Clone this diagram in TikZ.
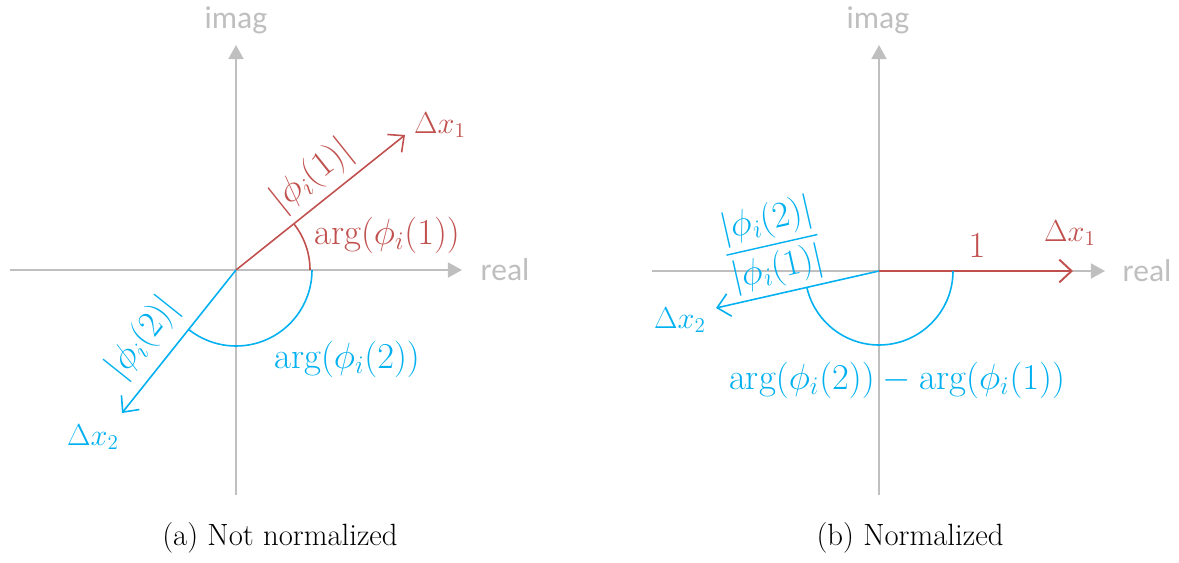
\documentclass[tikz,border=0pt]{standalone}
\usepackage{amsmath,amssymb}
\usepackage{fontspec}
\newfontfamily\axfont{Carlito}
\usepackage{tikz}
\usetikzlibrary{positioning,arrows.meta,calc}
\definecolor{redv}{RGB}{192,80,77}
\definecolor{bluev}{RGB}{0,176,240}
\definecolor{axgray}{RGB}{191,191,191}

\begin{document}
\begin{tikzpicture}[x=0.02cm, y=0.02cm,
        ax/.style={draw=axgray, line width=1.1pt, -{Triangle[length=8pt, width=8.5pt]}},
        axl/.style={font=\axfont\fontsize{18}{20}\selectfont, text=axgray, inner sep=1pt},
        vr/.style={draw=redv, line width=0.9pt, -{Straight Barb[length=7pt, width=13pt]}},
        vb/.style={draw=bluev, line width=0.9pt, -{Straight Barb[length=7pt, width=13pt]}},
        ar/.style={draw=redv, line width=0.9pt},
        ab/.style={draw=bluev, line width=0.9pt},
        ml/.style={font=\fontsize{21}{23}\selectfont, inner sep=1pt},
        dl/.style={font=\fontsize{18}{20}\selectfont, inner sep=1pt},
        capt/.style={font=\fontsize{17.5}{20}\selectfont, inner sep=0pt}
    ]
    \useasboundingbox (0,0) rectangle (1179,562);

    %% ======== (a) Not normalized ========
    \begin{scope}[shift={(236,292)}]
    \coordinate (oa) at (0,0);
    \coordinate (xla) at (-226,0);
    \coordinate (xra) at (226,0);
    \coordinate (yba) at (0,-225);
    \coordinate (yta) at (0,225);
    \draw[ax] (xla) -- (xra);
    \draw[ax] (yba) -- (yta);
    \node[axl] (ima) at (0,250) {imag};
    \node[axl] (rea) at (269,0) {real};
    % vectors
    \coordinate (p1a) at (169,135);
    \coordinate (p2a) at (-114,-143);
    \draw[vr] (oa) -- (p1a);
    \draw[vb] (oa) -- (p2a);
    \node[dl, text=redv] (dx1a) at (204,145) {$\Delta x_1$};
    \node[dl, text=bluev] (dx2a) at (-143,-167) {$\Delta x_2$};
    \node[ml, text=redv, rotate=38.6] (m1a) at (76,94) {$|\phi_i(1)|$};
    \node[ml, text=bluev, rotate=51.4] (m2a) at (-93,-68) {$|\phi_i(2)|$};
    % angles
    \draw[ar] (74,0) arc[start angle=0, end angle=38.6, radius=74];
    \draw[ab] (76,0) arc[start angle=0, end angle=-128.6, radius=76];
    \node[ml, text=redv] (g1a) at (151,35) {$\arg(\phi_i(1))$};
    \node[ml, text=bluev] (g2a) at (111,-89) {$\arg(\phi_i(2))$};
    \end{scope}

    %% ======== (b) Normalized ========
    \begin{scope}[shift={(879,291)}]
    \coordinate (ob) at (0,0);
    \coordinate (xlb) at (-227,0);
    \coordinate (xrb) at (226,0);
    \coordinate (ybb) at (0,-224);
    \coordinate (ytb) at (0,226);
    \draw[ax] (xlb) -- (xrb);
    \draw[ax] (ybb) -- (ytb);
    \node[axl] (imb) at (-1,251) {imag};
    \node[axl] (reb) at (268,0) {real};
    % vectors
    \coordinate (p1b) at (194,0);
    \coordinate (p2b) at (-163,-37);
    \draw[vr, line width=1.1pt] (ob) -- (p1b);
    \draw[vb] (ob) -- (p2b);
    \node[ml, text=redv] (oneb) at (98,25) {$1$};
    \node[dl, text=redv] (dx1b) at (191,38) {$\Delta x_1$};
    \node[dl, text=bluev] (dx2b) at (-199,-49) {$\Delta x_2$};
    \node[ml, text=bluev, rotate=12.8, font=\fontsize{20}{22}\selectfont] (fb) at (-107,26)
          {$\dfrac{|\phi_i(2)|}{|\phi_i(1)|}$};
    % angle
    \draw[ab] (74,0) arc[start angle=0, end angle=-167.2, radius=74];
    \node[ml, text=bluev] (gb) at (18,-109) {$\arg(\phi_i(2)) - \arg(\phi_i(1))$};
    \end{scope}

    %% ---- captions ----
    \node[capt] (capa) at (280,24) {(a) Not normalized};
    \node[capt] (capb) at (910,24) {(b) Normalized};

\end{tikzpicture}
\end{document}
